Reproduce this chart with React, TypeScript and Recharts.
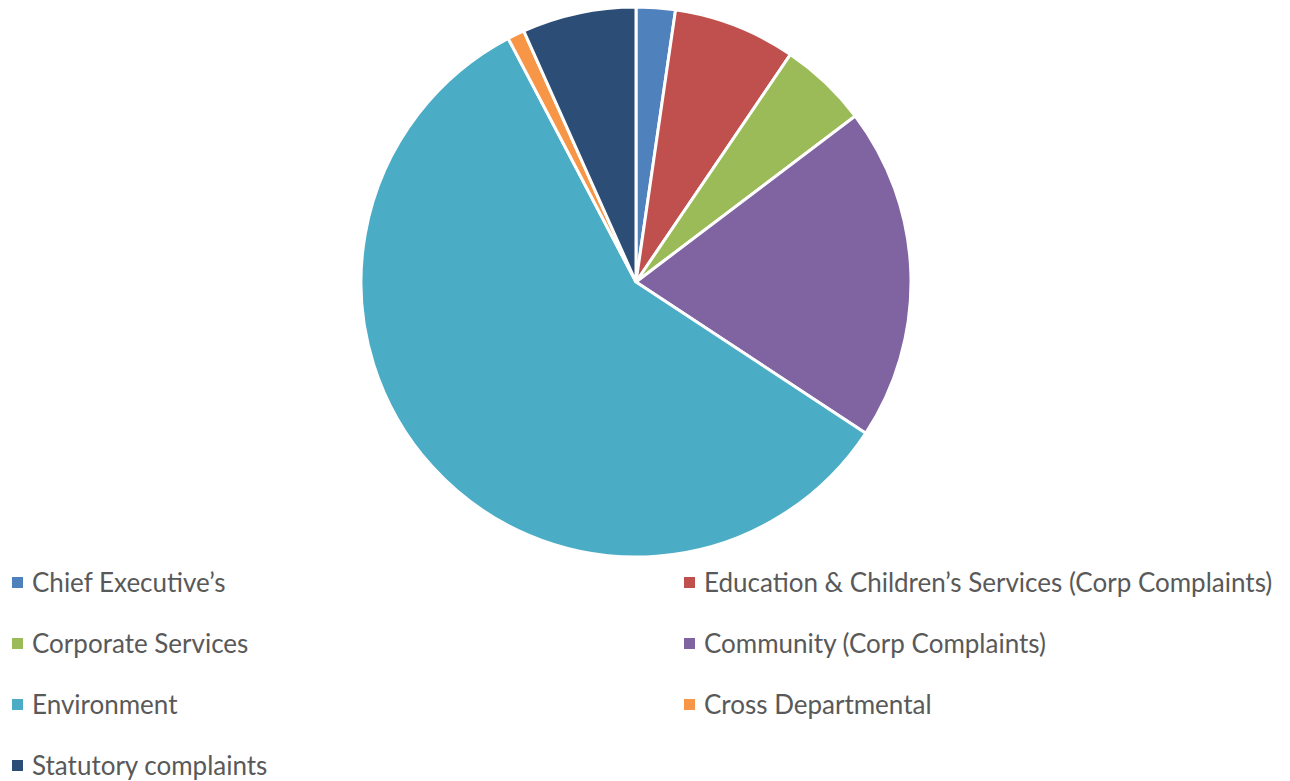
import React from 'react';
import { PieChart, Pie, Cell } from 'recharts';

// complaints by service area
const categories = [
  'Chief Executive’s',
  'Education & Children’s Services (Corp Complaints)',
  'Corporate Services',
  'Community (Corp Complaints)',
  'Environment',
  'Cross Departmental',
  'Statutory complaints',
];
const counts = [23, 72, 52, 196, 581, 10, 67];
const colors = ['#4F81BD', '#C0504D', '#9BBB59', '#8064A2', '#4BACC6', '#F79646', '#2C4D75'];

const data = categories.map((name, i) => ({ name, value: counts[i] }));

const FONT = 'Lato, "Open Sans", sans-serif';

const LegendBlock = () => {
  const rowTop = 574;
  const rowGap = 61;
  return (
    <>
      {categories.map((name, i) => {
        const col = i % 2;
        const row = Math.floor(i / 2);
        return (
          <div
            key={name}
            style={{
              position: 'absolute',
              left: col === 0 ? 4 : 676,
              top: rowTop + row * rowGap - 15,
              height: 30,
              display: 'flex',
              alignItems: 'center',
              whiteSpace: 'nowrap',
              fontFamily: FONT,
              fontSize: 26,
              color: '#595959',
            }}
          >
            <span
              style={{
                display: 'inline-block',
                width: 11,
                height: 11,
                background: colors[i],
                marginRight: 9,
              }}
            />
            {name}
          </div>
        );
      })}
    </>
  );
};

export default function App() {
  return (
    <div style={{ position: 'relative', width: 1282, height: 773 }}>
      <PieChart width={1282} height={570} margin={{ top: 0, right: 0, bottom: 0, left: 0 }}>
        <Pie
          data={data}
          dataKey="value"
          nameKey="name"
          cx={628}
          cy={274}
          outerRadius={275}
          startAngle={90}
          endAngle={-270}
          stroke="#ffffff"
          strokeWidth={3}
          isAnimationActive={false}
        >
          {data.map((d, i) => (
            <Cell key={d.name} fill={colors[i]} />
          ))}
        </Pie>
      </PieChart>
      <LegendBlock />
    </div>
  );
}
